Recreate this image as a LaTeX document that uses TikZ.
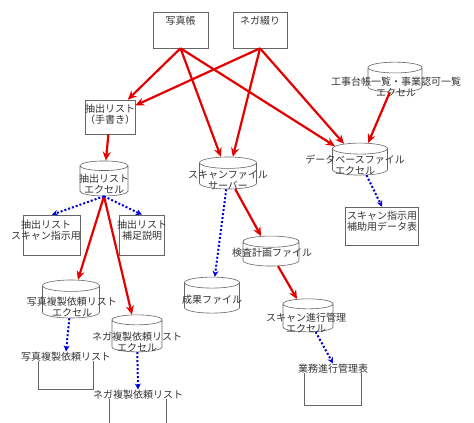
\documentclass[tikz,border=0pt]{standalone}
\usepackage{fontspec}
\setmainfont{Noto Sans CJK JP}
\usetikzlibrary{shapes.geometric,arrows.meta}

\begin{document}
\begin{tikzpicture}[x=1pt, y=-1pt, every node/.style={inner sep=0pt}, text centered, line width=.4mm,
	docbox/.style={draw=black!60, line width=.6pt, rectangle},
	dbfile/.style={draw=black!60, line width=.6pt, cylinder, shape border rotate=90, aspect=.2, fill=white, text width=#1},
	lbl/.style={font=\fontsize{10}{11}\selectfont, align=center, text=black!80},
	flow/.style={draw=red!90!black, line width=2.2pt, -{Stealth[length=9pt,width=8pt]}},
	refer/.style={draw=blue!85!black, line width=2pt, dotted, -{Stealth[length=6pt,width=6pt]}}]
	\useasboundingbox (0,0) rectangle (474,423);
	% sources
	\node[docbox, minimum width=55, minimum height=36] (photo) at (180.5,30) {};
	\node[lbl, anchor=north] (photoText) at ([yshift=-4pt]photo.north) {写真帳};
	\node[docbox, minimum width=54, minimum height=36] (nega) at (260,30) {};
	\node[lbl, anchor=north] (negaText) at ([yshift=-4pt]nega.north) {ネガ綴り};
	\node[dbfile=54pt, minimum height=30] (koji) at (395,80) {};
	\node[lbl] (kojiText) at (396,87) {工事台帳一覧・事業認可一覧\\エクセル};
	% extraction lists
	\node[docbox, minimum width=50, minimum height=34] (handlist) at (110,117) {};
	\node[lbl] (handlistText) at (110,114) {抽出リスト\\（手書き）};
	\node[dbfile=48pt, minimum height=35] (extract) at (104,181) {};
	\node[lbl] (extractText) at (104,184) {抽出リスト\\エクセル};
	\node[docbox, minimum width=57, minimum height=40] (scaninstr) at (52,235) {};
	\node[lbl] (scaninstrText) at (46,230) {抽出リスト\\スキャン指示用};
	\node[docbox, minimum width=45, minimum height=40] (suppl) at (142,235) {};
	\node[lbl] (supplText) at (142,230) {抽出リスト\\補足説明};
	% scanning
	\node[dbfile=57pt, minimum height=32] (scanfile) at (228,176) {};
	\node[lbl] (scanfileText) at (228,180) {スキャンファイル\\サーバー};
	\node[dbfile=55pt, minimum height=32] (database) at (360,162) {};
	\node[lbl] (databaseText) at (355,165) {データベースファイル\\エクセル};
	\node[docbox, minimum width=73, minimum height=38] (aux) at (382,226) {};
	\node[lbl] (auxText) at (382,221) {スキャン指示用\\補助用データ表};
	\node[dbfile=56pt, minimum height=30] (kensa) at (271,254) {};
	\node[lbl] (kensaText) at (272,253) {検査計画ファイル};
	\node[dbfile=55pt, minimum height=36] (seika) at (212,298) {};
	\node[lbl] (seikaText) at (212,300) {成果ファイル};
	\node[dbfile=50pt, minimum height=33] (scanprog) at (308,318) {};
	\node[lbl] (scanprogText) at (306,323) {スキャン進行管理\\エクセル};
	\node[docbox, minimum width=57, minimum height=36] (gyomu) at (333,387) {};
	\node[lbl, fill=white] (gyomuText) at (gyomu.north) {業務進行管理表};
	% duplication lists
	\node[dbfile=57pt, minimum height=38] (photodup) at (71,302) {};
	\node[lbl] (photodupText) at (72,307) {写真複製依頼リスト\\エクセル};
	\node[docbox, minimum width=55, minimum height=32] (photolist) at (66,373) {};
	\node[lbl, fill=white] (photolistText) at (photolist.north) {写真複製依頼リスト};
	\node[dbfile=50pt, minimum height=37] (negadup) at (137,336) {};
	\node[lbl] (negadupText) at (137,342) {ネガ複製依頼リスト\\エクセル};
	\node[docbox, minimum width=57, minimum height=36] (negalist) at (138,413) {};
	\node[lbl, fill=white] (negalistText) at (negalist.north) {ネガ複製依頼リスト};
	% red flows
	\draw[flow] (photo.south) -- (handlist);
	\draw[flow] (photo.south) -- (scanfile);
	\draw[flow] (photo.south) -- (database);
	\draw[flow] (nega.south) -- (handlist);
	\draw[flow] (nega.south) -- (scanfile);
	\draw[flow] (nega.south) -- (database);
	\draw[flow] (koji) -- (database);
	\draw[flow] (handlist) -- (extract);
	\draw[flow] (extract.south) -- (photodup);
	\draw[flow] (extract.south) -- (negadup);
	\draw[flow] (scanfile) -- (kensa);
	\draw[flow] (kensa) -- (scanprog);
	% blue references
	\draw[refer] (extract.south) -- (scaninstr.north);
	\draw[refer] (extract.south) -- (suppl.north);
	\draw[refer] (database) -- (aux.north);
	\draw[refer] (scanfile) -- (seika);
	\draw[refer] (photodup) -- (photolistText.north);
	\draw[refer] (negadup) -- (negalistText.north);
	\draw[refer] (scanprog) -- (gyomuText.north);
\end{tikzpicture}
\end{document}
